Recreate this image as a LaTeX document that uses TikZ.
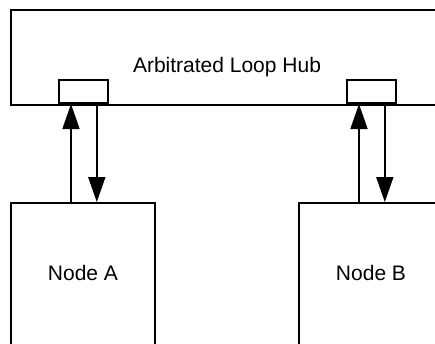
\documentclass[tikz,border=0pt]{standalone}
\usepackage{fontspec}
\setmainfont{Liberation Sans}
\usetikzlibrary{arrows.meta}
\begin{document}
\begin{tikzpicture}[x=1pt,y=-1pt,
  box/.style={draw=black,line width=1.8pt,fill=white,rectangle,inner sep=0pt},
  lbl/.style={font=\fontsize{21}{25}\selectfont,inner sep=0pt},
  link/.style={line width=1.8pt,-{Triangle[length=25pt,width=17pt]}}]
  \useasboundingbox (0,0) rectangle (435,343);
  \clip (0,0) rectangle (435,343);
  % hub, running off the right edge
  \node[box,anchor=north west,minimum width=460pt,minimum height=95pt] (hub) at (10,9) {};
  \node[lbl] (hubtext) at (227,67) {Arbitrated Loop Hub};
  % port blocks on the hub's lower edge
  \node[box,anchor=south west,minimum width=49pt,minimum height=23pt] (portA) at (58,104) {};
  \node[box,anchor=south west,minimum width=49pt,minimum height=23pt] (portB) at (346,104) {};
  % end nodes, running off the bottom edge
  \node[box,anchor=north west,minimum width=144pt,minimum height=170pt] (nodeA) at (10,202) {};
  \node[box,anchor=north west,minimum width=144pt,minimum height=170pt] (nodeB) at (298,202) {};
  \node[lbl] (labelA) at (83,273) {Node A};
  \node[lbl] (labelB) at (371,273) {Node B};
  % transmit and receive links
  \draw[link] ([xshift=13pt]portA.south west |- nodeA.north) -- ([xshift=13pt]portA.south west);
  \draw[link] ([xshift=-12pt]portA.south east) -- ([xshift=-12pt]portA.south east |- nodeA.north);
  \draw[link] ([xshift=13pt]portB.south west |- nodeB.north) -- ([xshift=13pt]portB.south west);
  \draw[link] ([xshift=-12pt]portB.south east) -- ([xshift=-12pt]portB.south east |- nodeB.north);
\end{tikzpicture}
\end{document}
